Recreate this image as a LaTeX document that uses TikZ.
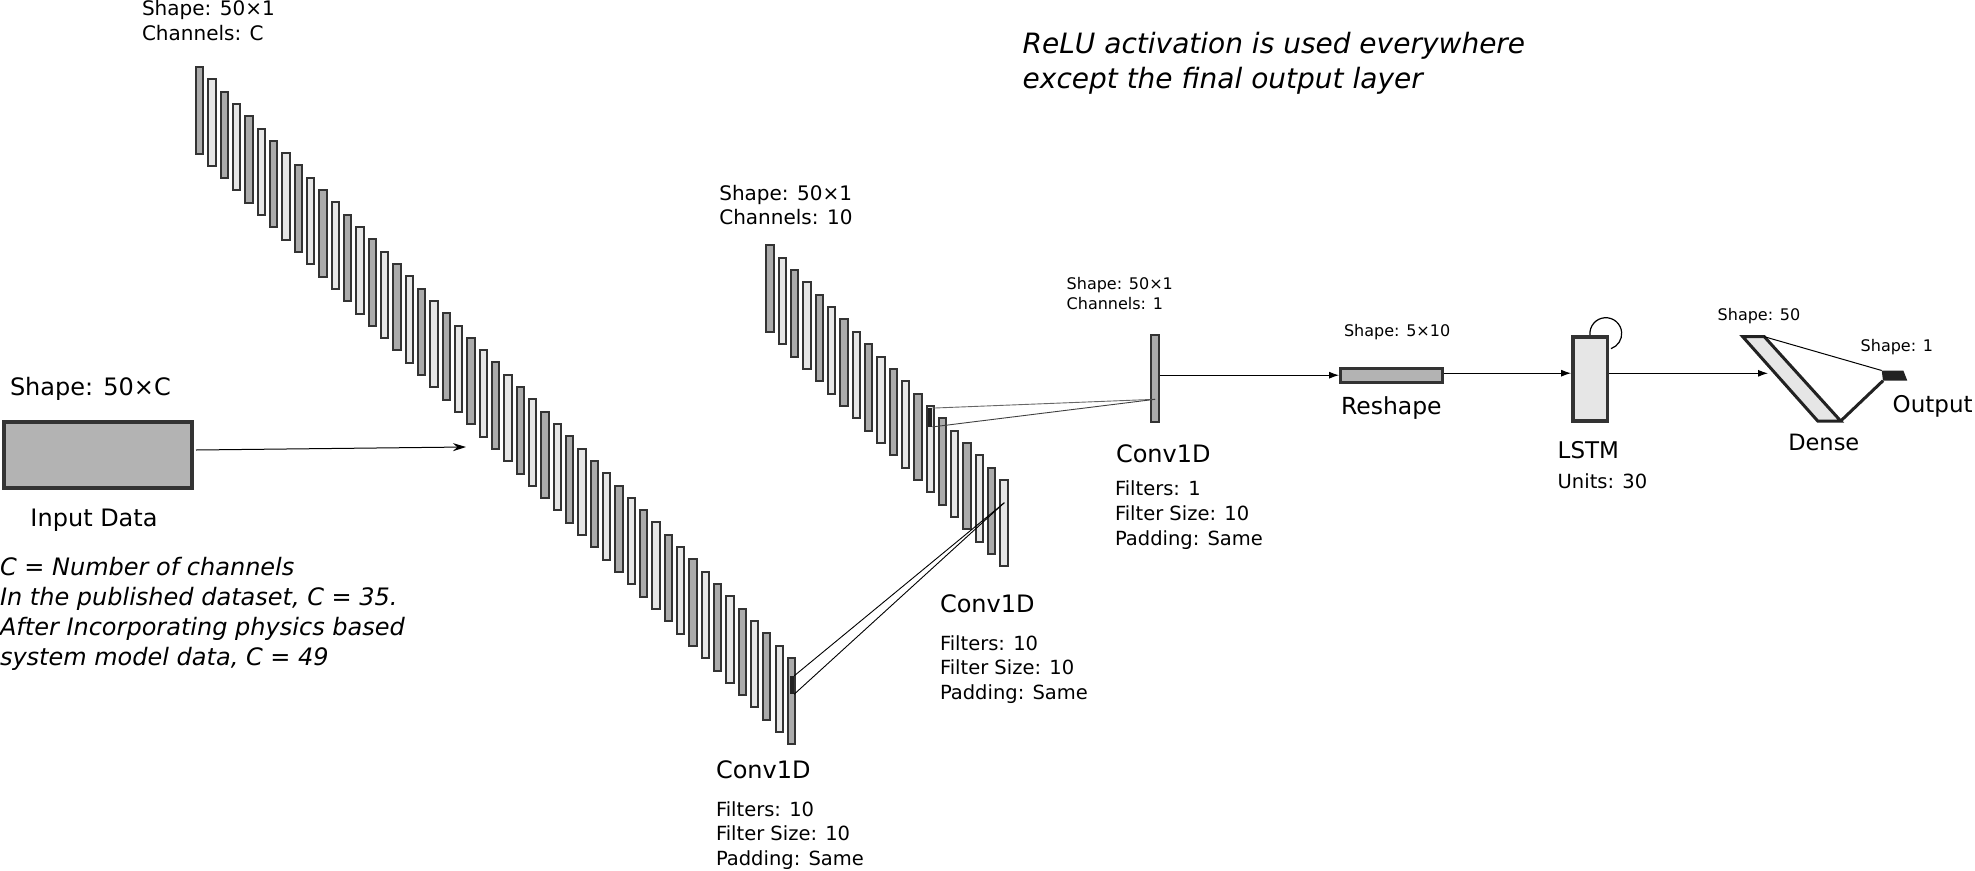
\documentclass[tikz,border=0pt]{standalone}
\usepackage{fontspec}
\setmainfont{DejaVu Sans}
\usetikzlibrary{arrows.meta}
\definecolor{bardark}{HTML}{ABABAB}
\definecolor{barlight}{HTML}{E6E6E6}
\definecolor{edge}{HTML}{333333}
\definecolor{boxfill}{HTML}{B3B3B3}
\definecolor{ink}{HTML}{222222}
\newcommand\myfs[1]{\fontsize{#1pt}{#1pt}\selectfont}
\begin{document}
\begin{tikzpicture}[x=1pt,y=-1pt,
  txt/.style={anchor=base west, inner sep=0pt, outer sep=0pt},
  bar/.style={draw=edge, line width=2pt, inner sep=0pt, minimum width=7.3pt, minimum height=86.5pt},
  darkbar/.style={bar, fill=bardark},
  lightbar/.style={bar, fill=barlight},
  kernel/.style={fill=ink, inner sep=0pt, minimum width=4pt, minimum height=18pt},
  arr/.style={-{Latex[length=10pt,width=7pt]}, line width=1pt},
  link/.style={line width=0.9pt},
  heavy/.style={draw=edge, line width=3pt, inner sep=0pt},
]
\useasboundingbox (0,0) rectangle (1975,870);

% ---------- input ----------
\node[heavy, line width=4pt, fill=boxfill, minimum width=188pt, minimum height=66pt] (inp) at (98,455) {};
\node[txt] (inshape) at (10,395.7) {\myfs{24}Shape: 50×C};
\node[txt] (inlabel) at (30.5,526.7) {\myfs{24}Input Data};
\node[txt] (n1) at (0,575) {\myfs{24}\itshape C = Number of channels};
\node[txt] (n2) at (0,605) {\myfs{24}\itshape In the published dataset, C = 35.};
\node[txt] (n3) at (0,635) {\myfs{24}\itshape After Incorporating physics based};
\node[txt] (n4) at (0,665) {\myfs{24}\itshape system model data, C = 49};

\node[txt] (relu1) at (1022.7,53.3) {\myfs{28}\itshape ReLU activation is used everywhere};
\node[txt] (relu2) at (1022.7,88) {\myfs{28}\itshape except the final output layer};

% ---------- column 1 ----------
\foreach \i in {0,...,48}{
  \pgfmathsetmacro{\bx}{199.65+12.33*\i}
  \pgfmathsetmacro{\by}{110.25+12.31*\i}
  \pgfmathtruncatemacro{\parity}{mod(\i,2)}
  \ifnum\parity=0
    \node[darkbar] (a\i) at (\bx,\by) {};
  \else
    \node[lightbar] (a\i) at (\bx,\by) {};
  \fi
}
\node[txt] (s1a) at (142,15.7) {\myfs{20}Shape: 50×1};
\node[txt] (s1b) at (142,40) {\myfs{20}Channels: C};
\node[txt] (c1t) at (716,778.3) {\myfs{24}Conv1D};
\node[txt] (c1a) at (716,816) {\myfs{19.5}Filters: 10};
\node[txt] (c1b) at (716,840.5) {\myfs{19.5}Filter Size: 10};
\node[txt] (c1c) at (716,865) {\myfs{19.5}Padding: Same};

\coordinate (inEnd) at (466,447);
\draw[-{Stealth[length=13pt,width=8pt]}, line width=1pt] ([xshift=2pt,yshift=5pt]inp.east) -- (inEnd);

% ---------- column 2 ----------
\foreach \i in {0,...,19}{
  \pgfmathsetmacro{\bx}{770+12.32*\i}
  \pgfmathsetmacro{\by}{288.7+12.34*\i}
  \pgfmathtruncatemacro{\parity}{mod(\i,2)}
  \ifnum\parity=0
    \node[darkbar] (b\i) at (\bx,\by) {};
  \else
    \node[lightbar] (b\i) at (\bx,\by) {};
  \fi
}
\node[txt] (s2a) at (719.3,200) {\myfs{20}Shape: 50×1};
\node[txt] (s2b) at (719.3,224.3) {\myfs{20}Channels: 10};
\node[txt] (c2t) at (940,612.3) {\myfs{24}Conv1D};
\node[txt] (c2a) at (940,650) {\myfs{19.5}Filters: 10};
\node[txt] (c2b) at (940,674.5) {\myfs{19.5}Filter Size: 10};
\node[txt] (c2c) at (940,699) {\myfs{19.5}Padding: Same};

% kernels and receptive-field lines
\node[kernel] (k1) at (792,685) {};
\coordinate (t1) at (1004.3,502.7);
\draw[link] (k1.north east) -- (t1);
\draw[link] (k1.south east) -- (t1);

% ---------- column 3 ----------
\node[darkbar] (c3) at (1155,378.7) {};
\node[txt] (s3a) at (1066.7,289.3) {\myfs{16}Shape: 50×1};
\node[txt] (s3b) at (1066.7,309) {\myfs{16}Channels: 1};
\node[txt] (c3t) at (1116,462.3) {\myfs{24}Conv1D};
\node[txt] (c3a) at (1115,495.7) {\myfs{19.5}Filters: 1};
\node[txt] (c3b) at (1115,520.7) {\myfs{19.5}Filter Size: 10};
\node[txt] (c3c) at (1115,545.7) {\myfs{19.5}Padding: Same};

\node[kernel, minimum height=18.4pt] (k2) at (930.3,417.5) {};
\coordinate (t2) at (1155,399.3);
\draw[link, draw=black!60] (k2.north east) -- (t2);
\draw[link, draw=black!75] (k2.south east) -- (t2);

% ---------- reshape ----------
\node[heavy, fill=boxfill, minimum width=102.3pt, minimum height=14pt] (rs) at (1391.7,375.2) {};
\node[txt] (rss) at (1344,336) {\myfs{16}Shape: 5×10};
\node[txt] (rsl) at (1341,414.3) {\myfs{23.5}Reshape};
\draw[arr] (c3.east |- rs.west) -- (rs.west);

% ---------- LSTM ----------
\node[heavy, line width=3.5pt, fill=barlight, minimum width=34.8pt, minimum height=84.2pt] (lstm) at (1590.2,378.9) {};
\draw[arr] ([yshift=2pt]rs.east) -- ([yshift=2pt]rs.east -| lstm.west);
\draw[line width=1.2pt] ([shift={(185:15.9pt)}]1605.8,333.6) arc[start angle=185, end angle=-71, radius=15.9pt];
\node[txt] (lstml) at (1557.7,458.3) {\myfs{23}LSTM};
\node[txt] (lstmu) at (1557.7,488.3) {\myfs{19.5}Units: 30};

% ---------- dense ----------
\coordinate (dTL) at (1742.7,336.7);
\coordinate (dTR) at (1764.3,336.7);
\coordinate (dBR) at (1840.7,421);
\coordinate (dBL) at (1817.7,421);
\coordinate (dIn) at (1768,373.3);
\draw[arr] (lstm.east |- dIn) -- (dIn);
\draw[draw=ink, line width=3pt, fill=barlight, line join=miter] (dTL) -- (dTR) -- (dBR) -- (dBL) -- cycle;
\node[txt] (dss) at (1717.7,320) {\myfs{16}Shape: 50};
\node[txt] (dl) at (1788.3,450) {\myfs{22.5}Dense};

% ---------- output ----------
\coordinate (oTL) at (1881.7,370.5);
\coordinate (oTR) at (1903.3,370.5);
\coordinate (oBR) at (1907.3,380.7);
\coordinate (oBL) at (1883,380.7);
\fill[ink] (oTL) -- (oTR) -- (oBR) -- (oBL) -- cycle;
\draw[line width=1pt] (dTR) -- (oTL);
\draw[draw=ink, line width=3pt] (dBR) -- (oBL);
\node[txt] (os) at (1860.7,351) {\myfs{16}Shape: 1};
\node[txt] (ol) at (1892.7,412.3) {\myfs{23}Output};
\end{tikzpicture}
\end{document}
